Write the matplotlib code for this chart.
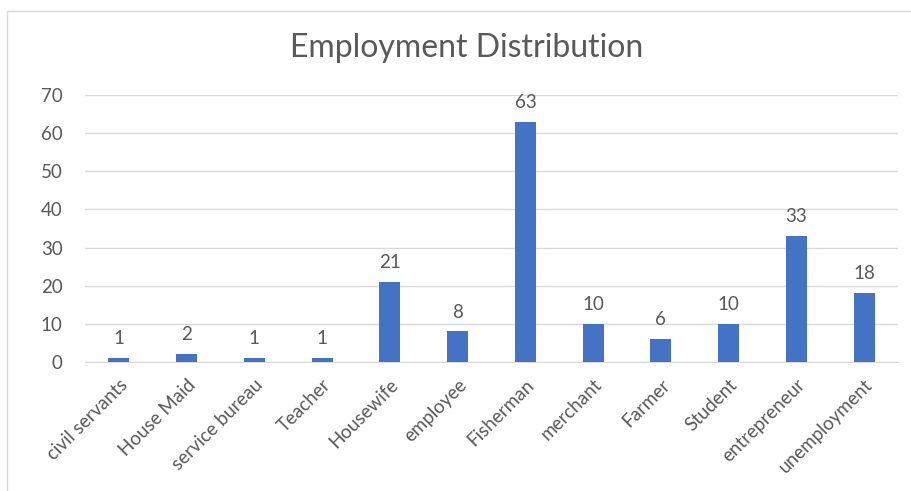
import matplotlib.pyplot as plt
import matplotlib.patches as patches
import numpy as np

categories = ['civil servants', 'House Maid', 'service bureau', 'Teacher', 'Housewife',
              'employee', 'Fisherman', 'merchant', 'Farmer', 'Student',
              'entrepreneur', 'unemployment']
counts = [1, 2, 1, 1, 21, 8, 63, 10, 6, 10, 33, 18]
yticks = [0, 10, 20, 30, 40, 50, 60, 70]

plt.rcParams['font.family'] = ['Lato', 'DejaVu Sans']
text_color = '#595959'

fig = plt.figure(figsize=(9.11, 4.91), dpi=100)
# chart frame
fig.patches.append(patches.Rectangle((7 / 911, -0.1), 1.0, 1 - 11 / 491 + 0.1,
                                     transform=fig.transFigure, fill=False,
                                     edgecolor='#d9d9d9', linewidth=1))

ax = fig.add_axes([85 / 911, 1 - 362 / 491, 813 / 911, 267 / 491])
x = np.arange(len(categories))
ax.bar(x, counts, width=0.31, color='#4472c4', zorder=3)

for xi, v in zip(x, counts):
    ax.annotate(str(v), (xi, v), xytext=(0, 10), textcoords='offset points',
                ha='center', va='baseline', fontsize=13.5, color=text_color)

ax.set_xlim(-0.5, len(categories) - 0.5)
ax.set_ylim(0, 70)
ax.set_yticks(yticks)
ax.set_yticklabels([str(t) for t in yticks], fontsize=13.5, color=text_color)
ax.set_xticks(x)
ax.set_xticklabels(categories, rotation=45, ha='right', rotation_mode='anchor',
                   fontsize=13.5, color=text_color)
ax.tick_params(axis='both', length=0)
ax.tick_params(axis='y', pad=16)
ax.tick_params(axis='x', pad=10)
ax.grid(axis='y', color='#d9d9d9', linewidth=1, zorder=0)
for s in ['top', 'right', 'left']:
    ax.spines[s].set_visible(False)
ax.spines['bottom'].set_color('#d9d9d9')

fig.text(467 / 911, 1 - 48 / 491, 'Employment Distribution', ha='center', va='center',
         fontsize=23, color=text_color)

fig.savefig('out.png', dpi=100)
